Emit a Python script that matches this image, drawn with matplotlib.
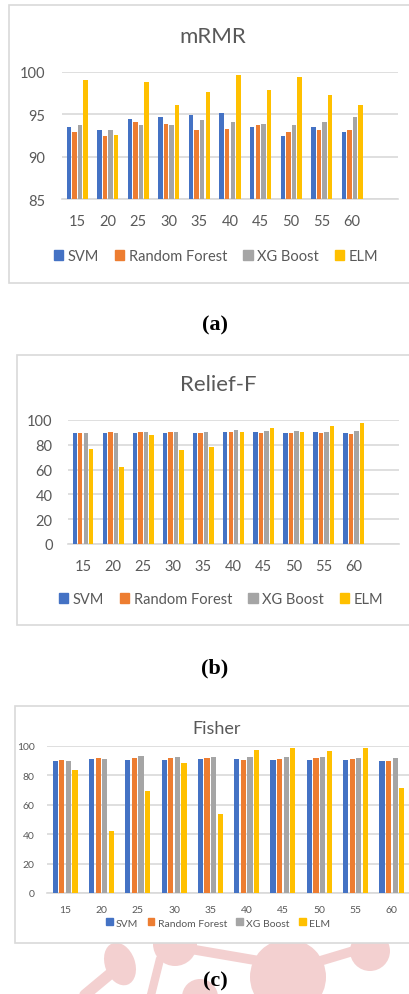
import matplotlib
matplotlib.use("Agg")
import matplotlib.pyplot as plt
import numpy as np
from matplotlib.patches import Rectangle, Patch, Ellipse, Circle

plt.rcParams['font.family'] = ['Lato', 'DejaVu Sans']

categories = ["15", "20", "25", "30", "35", "40", "45", "50", "55", "60"]
series_names = ["SVM", "Random Forest", "XG Boost", "ELM"]
colors = ["#4472C4", "#ED7D31", "#A5A5A5", "#FFC000"]

mrmr_svm = [93.5, 93.1, 94.4, 94.7, 94.9, 95.1, 93.5, 92.5, 93.5, 92.9]
mrmr_rf = [92.9, 92.5, 94.1, 93.9, 93.1, 93.3, 93.7, 92.9, 93.1, 93.1]
mrmr_xgb = [93.7, 93.1, 93.7, 93.7, 94.3, 94.1, 93.9, 93.7, 94.1, 94.7]
mrmr_elm = [99.1, 92.6, 98.8, 96.1, 97.6, 99.7, 97.9, 99.4, 97.3, 96.1]

relief_svm = [89.3, 89.5, 89.5, 89.5, 89.5, 90.3, 90.0, 89.5, 90.3, 89.5]
relief_rf = [89.5, 90.0, 90.3, 90.6, 89.5, 90.3, 89.5, 89.5, 89.5, 88.7]
relief_xgb = [89.5, 89.5, 90.3, 90.3, 90.6, 91.7, 91.1, 91.4, 90.3, 90.9]
relief_elm = [77.0, 62.0, 87.7, 75.6, 78.6, 90.3, 93.6, 90.3, 95.4, 97.3]

fisher_svm = [89.5, 91.4, 90.5, 90.2, 91.4, 91.4, 90.7, 90.7, 90.7, 90.0]
fisher_rf = [90.2, 92.0, 91.8, 91.6, 92.0, 90.5, 91.1, 91.8, 91.4, 90.0]
fisher_xgb = [90.0, 91.4, 93.0, 92.7, 92.3, 92.3, 92.5, 92.3, 92.0, 92.0]
fisher_elm = [83.9, 42.5, 69.5, 88.4, 53.6, 97.5, 98.9, 96.6, 98.9, 71.1]

W, H = 410, 995
fig = plt.figure(figsize=(W / 100, H / 100), dpi=100)
fig.patch.set_facecolor("white")

TXT = "#595959"
GRID = "#D9D9D9"

# background axes in pixel coordinates (for frames and faint watermark)
bg = fig.add_axes([0, 0, 1, 1], zorder=-5)
bg.set_xlim(0, W)
bg.set_ylim(H, 0)
bg.axis("off")

wm = "#F3D0D0"
for (cx, cy, rr) in [(288, 978, 38), (370, 952, 20), (175, 945, 22), (200, 998, 18)]:
    bg.add_patch(Circle((cx, cy), rr, color=wm, lw=0, zorder=1))
bg.add_patch(Ellipse((120, 965), 30, 44, angle=-20, color=wm, lw=0, zorder=1))
for (x0, y0, x1, y1, lw) in [(190, 950, 260, 962, 7), (310, 965, 360, 950, 7),
                             (110, 975, 80, 1000, 8), (160, 960, 150, 1000, 6)]:
    bg.plot([x0, x1], [y0, y1], color=wm, lw=lw, solid_capstyle="round", zorder=1)


def box(l, t, r, b):
    bg.add_patch(Rectangle((l, t), r - l, b - t, facecolor="white",
                           edgecolor="#D9D9D9", lw=1.2, zorder=2))


box(9, 6, 420, 284)
box(17, 356, 420, 626)
box(15, 707, 420, 944)


def rect(l, t, r, b):
    return [l / W, 1 - b / H, (r - l) / W, (b - t) / H]


def panel(axr, data, ylim, yticks, ncat, title, title_xy, title_fs,
          tick_fs, ypad, xpad, leg_xy, leg_fs, colsp, caption, cap_y):
    ax = fig.add_axes(rect(*axr))
    x = np.arange(len(categories))
    width = 0.145
    step = 0.182
    for i, (vals, c, name) in enumerate(zip(data, colors, series_names)):
        ax.bar(x + (i - 1.5) * step, vals, width=width, color=c, label=name,
               zorder=3)
    ax.set_xlim(-0.5, ncat - 0.5)
    ax.set_ylim(*ylim)
    ax.set_yticks(yticks)
    ax.set_xticks(x)
    ax.set_xticklabels(categories)
    ax.tick_params(length=0, labelsize=tick_fs, colors=TXT)
    ax.tick_params(axis="y", pad=ypad)
    ax.tick_params(axis="x", pad=xpad)
    for s in ["top", "right", "left"]:
        ax.spines[s].set_visible(False)
    ax.spines["bottom"].set_color(GRID)
    ax.spines["bottom"].set_linewidth(1.2)
    ax.grid(axis="y", color=GRID, lw=1.2, zorder=0)
    ax.set_axisbelow(True)
    ax.patch.set_alpha(0)
    fig.text(title_xy[0] / W, 1 - title_xy[1] / H, title, ha="center",
             va="center", fontsize=title_fs, color=TXT)
    handles = [Patch(color=c, label=n) for c, n in zip(colors, series_names)]
    fig.legend(handles=handles, loc="center",
               bbox_to_anchor=(leg_xy[0] / W, 1 - leg_xy[1] / H), ncol=4,
               frameon=False, fontsize=leg_fs, handlelength=0.65,
               handleheight=0.65, handletextpad=0.3, columnspacing=colsp,
               labelcolor=TXT, borderaxespad=0)
    fig.text(215 / W, 1 - cap_y / H, caption, ha="center", va="center",
             fontsize=16, fontweight="bold", family="Liberation Serif",
             color="black")
    return ax


panel((62, 73, 398, 200), [mrmr_svm, mrmr_rf, mrmr_xgb, mrmr_elm],
      (85, 100), [85, 90, 95, 100], 11, "mRMR", (213, 37), 16,
      10.5, 12, 11, (216, 257), 10.5, 1.1, "(a)", 325)

panel((68, 421, 399, 545), [relief_svm, relief_rf, relief_xgb, relief_elm],
      (0, 100), [0, 20, 40, 60, 80, 100], 11, "Relief-F", (218, 385), 16,
      10.5, 11, 11, (221, 600), 10.5, 1.1, "(b)", 668)

panel((47, 747, 410, 894), [fisher_svm, fisher_rf, fisher_xgb, fisher_elm],
      (0, 100), [0, 20, 40, 60, 80, 100], 10, "Fisher", (217, 729), 13,
      7.5, 9, 8.5, (218, 924), 7.5, 0.9, "(c)", 981)

fig.savefig("out.png", dpi=100, facecolor="white")
